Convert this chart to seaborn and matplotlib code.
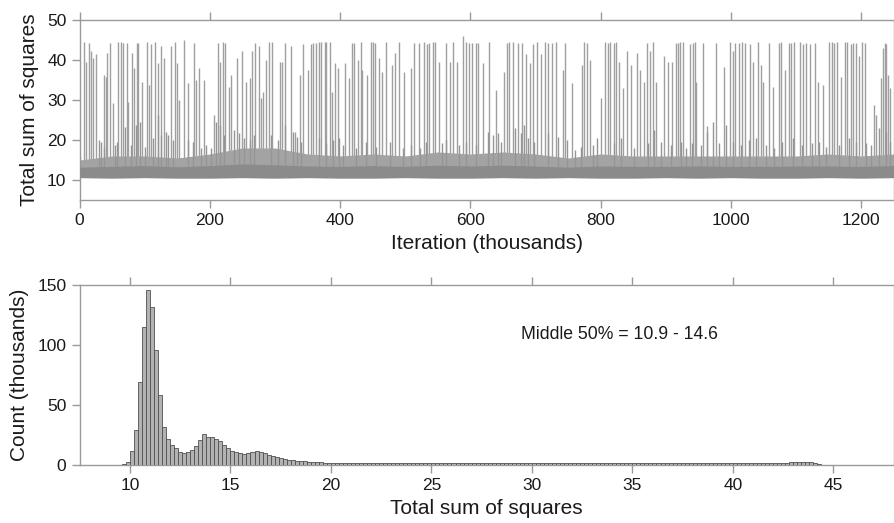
import numpy as np
import pandas as pd
import seaborn as sns
import matplotlib.pyplot as plt

# Trace panel: dense band (read every 50k iterations) and the spikes above it
band_iter = [0, 50, 100, 150, 200, 250, 300, 350, 400, 450, 500, 550, 600,
             650, 700, 750, 800, 850, 900, 950, 1000, 1050, 1100, 1150, 1200, 1250]
band_low = [10.6, 10.5, 10.6, 10.5, 10.5, 10.6, 10.5, 10.6, 10.5, 10.5, 10.6, 10.5, 10.5,
            10.6, 10.5, 10.6, 10.5, 10.5, 10.6, 10.5, 10.6, 10.5, 10.5, 10.6, 10.5, 10.6]
band_core = [13.2, 13.4, 13.6, 13.3, 13.6, 14.0, 13.8, 13.5, 13.4, 13.6, 13.4, 13.7, 13.5,
             13.7, 13.5, 13.2, 13.5, 13.4, 13.4, 13.5, 13.4, 13.4, 13.5, 13.5, 13.4, 13.6]
band_high = [15.0, 16.0, 16.0, 15.5, 16.5, 18.0, 18.0, 16.5, 16.0, 16.5, 16.0, 17.0, 16.5,
             17.0, 16.5, 15.5, 16.5, 16.0, 16.0, 16.0, 16.0, 16.0, 16.0, 16.5, 16.0, 16.5]

# small excursions sitting on top of the band
minor_iter = [0, 30, 33, 38, 54, 58, 69, 79, 87, 92, 100, 113, 120, 125, 133, 135, 143, 166,
              174, 186, 194, 201, 209, 215, 222, 237, 245, 253, 261, 268, 294, 304,
              315, 327, 334, 340, 368, 379, 389, 399, 404, 425, 440, 455, 476, 496, 509, 522,
              532, 557, 562, 583, 593, 608, 627, 635, 642, 647, 668, 678, 683, 688, 698, 719,
              734, 749, 760, 770, 788, 795, 821, 831, 852, 872, 882, 892, 908, 923,
              931, 941, 954, 964, 972, 982, 992, 1003, 1015, 1028, 1038, 1054, 1066, 1079,
              1095, 1110, 1125, 1135, 1146, 1166, 1181, 1192, 1207, 1215, 1227, 1238, 1245]
minor_top = [16.1, 20.0, 19.6, 18.3, 18.8, 19.6, 23.3, 18.8, 23.8, 24.6, 18.3, 20.4, 26.3,
             21.3, 22.1, 21.3, 20.0, 20.0, 19.6, 18.0, 18.8, 18.0, 24.6, 23.8, 21.3, 22.5,
             21.7, 20.4, 20.0, 21.3, 21.3, 20.0,
             23.8, 22.1, 20.8, 19.6, 20.4, 19.2, 20.0, 20.4, 18.8, 18.0, 19.6, 18.3, 19.6,
             18.0, 18.8, 18.0, 19.6, 19.2, 20.0, 18.8, 19.6, 18.8, 22.1, 21.3, 21.7, 19.6,
             22.9, 21.7, 23.8, 20.4, 19.6, 21.7, 20.8, 20.0, 17.5, 18.3, 18.8, 20.4, 19.2,
             20.4, 18.0, 19.2, 22.5, 19.6, 18.8, 19.6,
             18.0, 19.2, 18.8, 22.1, 24.6, 19.2, 23.8, 19.6, 18.8, 20.0, 20.4, 18.8, 18.0,
             19.6, 20.4, 18.8, 19.2, 19.6, 18.3, 18.8, 20.4, 19.6, 19.2, 18.8, 22.9, 22.1, 19.6]

spike_iter = [6, 9, 14, 17, 20, 25, 37, 40, 42, 46, 51, 59, 63, 67, 72, 75, 80, 84, 88, 90,
              96, 104, 107, 109, 115, 121, 125, 129, 140, 146, 149, 153, 161, 166, 175, 179,
              183, 191, 207, 212, 216, 220, 223, 230, 233, 241, 250, 256, 262, 264, 269, 276,
              278, 282, 286, 291, 295, 307, 310, 315, 325, 330, 338, 343, 350, 356, 359, 363,
              367, 371, 376, 379, 384, 388, 392, 397, 407, 413, 418, 422, 427, 432, 434, 441,
              447, 451, 454, 460, 465, 471, 480, 484, 490, 498, 509, 514, 521, 529, 533, 537,
              543, 546, 552, 563, 568, 573, 580, 589, 594, 598, 603, 608, 611, 619, 629, 640,
              652, 656, 660, 665, 673, 679, 685, 691, 696, 702, 708, 714, 719, 725, 731, 742,
              745, 756, 771, 775, 779, 783, 801, 807, 811, 814, 820, 824, 828, 835, 840, 847,
              856, 860, 867, 871, 876, 880, 885, 897, 903, 910, 915, 919, 922, 927, 937, 942,
              945, 947, 957, 964, 977, 990, 999, 1003, 1007, 1012, 1017, 1021, 1030, 1034,
              1041, 1047, 1049, 1058, 1064, 1074, 1077, 1083, 1090, 1093, 1097, 1106, 1111,
              1116, 1122, 1129, 1134, 1141, 1150, 1155, 1158, 1163, 1169, 1175, 1178, 1184,
              1187, 1192, 1197, 1201, 1206, 1220, 1223, 1230, 1233, 1236, 1239, 1242, 1245]
spike_top = [44.6, 39.6, 44.2, 42.2, 40.4, 41.4, 36.3, 35.8, 41.8, 44.2, 29.2, 44.6, 44.6,
             44.2, 44.2, 29.6, 41.8, 37.9, 44.2, 44.2, 34.6, 44.6, 33.8, 43.9, 44.6, 39.2,
             43.5, 40.4, 43.5, 44.6, 39.2, 30.0, 45.0, 34.2, 44.2, 35.0, 37.9, 35.0, 26.3,
             44.2, 39.6, 44.6, 44.2, 33.3, 36.3, 40.4, 42.2, 34.6, 35.4, 42.2, 44.2, 43.5,
             30.4, 32.1, 40.0, 44.6, 44.6, 39.6, 39.6, 44.2, 43.5, 22.0, 36.3, 44.0, 37.5,
             43.9, 44.2, 44.2, 44.6, 44.6, 44.6, 44.6, 44.6, 32.1, 39.2, 37.9, 39.2, 35.4,
             44.2, 44.2, 40.0, 44.6, 37.5, 36.3, 44.6, 44.6, 44.2, 40.4, 37.1, 44.6, 38.8,
             41.7, 44.6, 37.1, 37.9, 44.2, 44.2, 44.6, 44.0, 44.2, 44.6, 44.6, 39.6, 44.2,
             39.6, 44.6, 39.6, 46.0, 44.6, 44.2, 44.2, 44.2, 44.2, 39.2, 44.6, 32.5, 37.1,
             44.2, 44.6, 44.6, 44.2, 44.2, 41.4, 39.2, 43.9, 44.6, 41.4, 44.6, 44.2, 44.2,
             44.6, 37.5, 44.2, 34.2, 38.8, 44.6, 44.2, 40.0, 30.4, 44.6, 44.2, 44.6, 44.2,
             44.6, 39.6, 32.9, 42.2, 38.8, 41.8, 37.5, 34.6, 44.2, 42.2, 44.6, 34.6, 40.9,
             39.6, 39.6, 44.2, 44.2, 44.6, 44.6, 43.9, 44.2, 44.6, 34.6, 44.2, 23.5, 44.2,
             38.3, 44.6, 42.2, 44.2, 44.2, 44.6, 44.2, 43.9, 39.6, 44.6, 38.8, 34.6, 44.2,
             33.3, 44.2, 44.6, 37.5, 44.2, 44.2, 44.6, 44.6, 43.9, 44.2, 43.9, 44.2, 34.6,
             33.8, 44.6, 44.6, 44.2, 44.6, 35.8, 44.6, 44.6, 43.9, 44.2, 44.2, 40.9, 44.6,
             44.2, 28.8, 26.3, 35.4, 43.1, 44.2, 43.9, 36.3, 32.9]

# Histogram panel: bins of width 0.2 starting at 9.6, counts in thousands
bin_start = 9.6
bin_width = 0.2
counts = [0.5, 2.8, 12, 29, 69, 115, 146, 132, 96, 58, 32, 22, 17, 14, 11, 10, 10.5, 12.5,
          16, 21, 26, 23, 23, 21.5, 20, 17, 14,
          12, 11, 10, 9.5, 10, 11, 11.5, 11, 10, 8.5, 7.5, 6.5, 5.5, 4.8, 4.3, 4, 3.6, 3.2,
          3, 2.7, 2.5, 2.3, 2.1, 1.9, 1.8,
          1.8, 1.7, 1.7, 1.6, 1.6, 1.5, 1.5, 1.5, 1.4, 1.4,
          1.4, 1.4, 1.5, 1.5, 1.6, 1.7, 1.6, 1.5, 1.4, 1.3,
          1.3, 1.3, 1.3, 1.3, 1.3, 1.3, 1.3, 1.3, 1.3, 1.3,
          1.3, 1.3, 1.3, 1.3, 1.3, 1.3, 1.3, 1.3, 1.3, 1.3,
          1.3, 1.3, 1.3, 1.3, 1.3, 1.3, 1.3, 1.3, 1.3, 1.3,
          1.3, 1.3, 1.3, 1.3, 1.3, 1.3, 1.3, 1.3, 1.3, 1.3,
          1.3, 1.3, 1.3, 1.3, 1.3, 1.4, 1.4, 1.5, 1.5, 1.6,
          1.5, 1.4, 1.4, 1.4, 1.3, 1.3, 1.3, 1.3, 1.3, 1.3,
          1.3, 1.3, 1.3, 1.3, 1.3, 1.3, 1.3, 1.3, 1.3, 1.3,
          1.3, 1.3, 1.3, 1.3, 1.3, 1.3, 1.3, 1.3, 1.3, 1.3,
          1.3, 1.3, 1.3, 1.3, 1.3, 1.3, 1.3, 1.4, 1.4, 1.4,
          1.5, 1.6, 1.7, 1.9, 2.1, 2.4, 2.7, 2.8, 2.7, 2.4,
          1.6, 0.8, 0.3, 0.1, 0.1, 0.05, 0.05, 0, 0, 0]
middle_text = 'Middle 50% = 10.9 - 14.6'

sns.set_theme(style='ticks')
plt.rcParams['font.family'] = ['Liberation Sans', 'DejaVu Sans']
frame = '#9a9a9a'

fig = plt.figure(figsize=(8.95, 5.23), dpi=100)
ax1 = fig.add_axes([0.089, 0.6176, 0.9095, 0.3442])
ax2 = fig.add_axes([0.089, 0.1109, 0.9095, 0.3442])

# trace
ax1.vlines(spike_iter, 12, spike_top, color='#9f9f9f', lw=1.0, zorder=1)
ax1.fill_between(band_iter, band_low, band_high, color='#a3a3a3', lw=0, zorder=2)
ax1.vlines(minor_iter, 13, minor_top, color='#959595', lw=1.0, zorder=2)
ax1.fill_between(band_iter, band_low, band_core, color='#8b8b8b', lw=0, zorder=3)
ax1.set_xlim(0, 1250)
ax1.set_ylim(5, 50)
ax1.set_xticks(range(0, 1201, 200))
ax1.set_yticks(range(10, 51, 10))
ax1.set_xlabel('Iteration (thousands)', fontsize=15, labelpad=4)
ax1.set_ylabel('Total sum of squares', fontsize=15, labelpad=6)

# histogram
n_bins = len(counts)
centers = [bin_start + bin_width * (i + 0.5) for i in range(n_bins)]
hist_df = pd.DataFrame({'sse': centers, 'count': counts})
sns.histplot(data=hist_df, x='sse', weights='count', binwidth=bin_width,
             binrange=(bin_start, bin_start + bin_width * n_bins), ax=ax2,
             color='#b2b2b2', edgecolor='#505050', linewidth=0.6, alpha=1, zorder=3)
ax2.set_xlim(7.5, 48)
ax2.set_ylim(0, 150)
ax2.set_xticks(range(10, 46, 5))
ax2.set_yticks([0, 50, 100, 150])
ax2.set_xlabel('Total sum of squares', fontsize=15, labelpad=4)
ax2.set_ylabel('Count (thousands)', fontsize=15, labelpad=6)
ax2.text(29.45, 109, middle_text, fontsize=12.7, ha='left', va='center', color='#1a1a1a')

for ax in (ax1, ax2):
    for s in ax.spines.values():
        s.set_visible(True)
        s.set_color(frame)
        s.set_linewidth(1.0)
    ax.tick_params(axis='both', which='major', direction='out', length=5.5, width=1,
                   color=frame, labelsize=12.5, labelcolor='#1a1a1a', pad=4)
    ax.tick_params(axis='x', top=True, labeltop=False)
    ax.tick_params(axis='y', right=False)
    ax.xaxis.label.set_color('#1a1a1a')
    ax.yaxis.label.set_color('#1a1a1a')
ax2.spines['bottom'].set_zorder(1)

fig.savefig('out.png', dpi=100)
